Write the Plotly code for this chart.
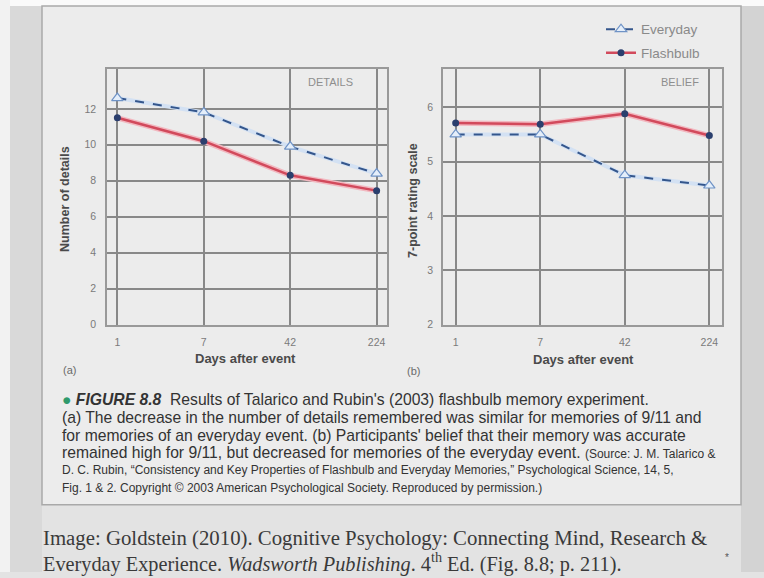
import plotly.graph_objects as go

# ---- data ----
days = ["1", "7", "42", "224"]
details_everyday = [12.6, 11.8, 9.9, 8.4]
details_flashbulb = [11.5, 10.2, 8.3, 7.45]
belief_everyday = [5.5, 5.5, 4.75, 4.56]
belief_flashbulb = [5.71, 5.69, 5.88, 5.48]
details_ticks = [0, 2, 4, 6, 8, 10, 12]
belief_ticks = [2, 3, 4, 5, 6]

W, H = 764, 578
def px(x):
    return x / W
def py(y):
    return 1 - y / H

EV_LINE = "#34568c"
EV_HALO = "#d3e1f3"
FL_LINE = "#d24a5c"
FL_HALO = "#f2b8c0"
FL_MARK = "#2b3f6e"

fig = go.Figure()

def add_panel(xa, ya, ev, fl, legend):
    fig.add_trace(go.Scatter(x=days, y=ev, mode="lines", xaxis=xa, yaxis=ya,
                             line=dict(color=EV_HALO, width=4), showlegend=False, hoverinfo="skip"))
    fig.add_trace(go.Scatter(x=days, y=fl, mode="lines", xaxis=xa, yaxis=ya,
                             line=dict(color=FL_HALO, width=5.5), showlegend=False, hoverinfo="skip"))
    fig.add_trace(go.Scatter(x=days, y=ev, mode="lines+markers", name="Everyday",
                             xaxis=xa, yaxis=ya, legendgroup="ev", showlegend=legend,
                             line=dict(color=EV_LINE, width=2, dash="dash"),
                             marker=dict(symbol="triangle-up", size=10, color="#e4eefa",
                                         line=dict(color="#6f93c6", width=1.2))))
    fig.add_trace(go.Scatter(x=days, y=fl, mode="lines+markers", name="Flashbulb",
                             xaxis=xa, yaxis=ya, legendgroup="fl", showlegend=legend,
                             line=dict(color=FL_LINE, width=2.5),
                             marker=dict(symbol="circle", size=7, color=FL_MARK)))

add_panel("x", "y", details_everyday, details_flashbulb, True)
add_panel("x2", "y2", belief_everyday, belief_flashbulb, False)

ax_common = dict(showgrid=True, gridcolor="#888888", gridwidth=1.5,
                 showline=True, linecolor="#999999", linewidth=1.5, mirror=True,
                 zeroline=False, ticks="", tickfont=dict(family="Liberation Sans", size=10.5, color="#7a7a7a"),
                 fixedrange=True)

fig.update_layout(
    width=W, height=H, autosize=False,
    margin=dict(l=0, r=0, t=0, b=0),
    paper_bgcolor="#e3e3e3",
    plot_bgcolor="#eeeeee",
    font=dict(family="Liberation Sans", color="#444"),
    xaxis=dict(domain=[px(107), px(387)], anchor="y", type="category",
               range=[-0.12, 3.12], ticklabelstandoff=7, **ax_common),
    yaxis=dict(domain=[py(328), py(70)], anchor="x", range=[0, 14.2],
               tickvals=details_ticks, ticklabelstandoff=7, **ax_common),
    xaxis2=dict(domain=[px(443), px(722)], anchor="y2", type="category",
                range=[-0.15, 3.15], ticklabelstandoff=7, **ax_common),
    yaxis2=dict(domain=[py(328), py(70)], anchor="x2", range=[2, 6.7],
                tickvals=belief_ticks, ticklabelstandoff=6, **ax_common),
    legend=dict(x=px(601), y=py(14), xanchor="left", yanchor="top",
                bgcolor="rgba(0,0,0,0)", font=dict(size=13.5, color="#8a8a8a"),
                tracegroupgap=3, traceorder="grouped"),
    showlegend=True,
)

shapes = [
    dict(type="rect", xref="paper", yref="paper", x0=0, x1=1, y0=py(6), y1=1,
         fillcolor="#fafafa", line_width=0, layer="below"),
    dict(type="rect", xref="paper", yref="paper", x0=0, x1=px(10), y0=0, y1=1,
         fillcolor="#f2f2f2", line_width=0, layer="below"),
    dict(type="rect", xref="paper", yref="paper", x0=px(10), x1=px(42), y0=0, y1=py(6),
         fillcolor="#d9d9d9", line_width=0, layer="below"),
    dict(type="rect", xref="paper", yref="paper", x0=px(741), x1=1, y0=0, y1=py(6),
         fillcolor="#d3d3d3", line_width=0, layer="below"),
    dict(type="rect", xref="paper", yref="paper", x0=px(42), x1=px(741), y0=py(510), y1=py(6),
         fillcolor="#ececec", line=dict(color="#a9a9a9", width=1.5), layer="below"),
]
fig.update_layout(shapes=shapes)

ann = []
def t(x, y, text, size, color="#444", xanchor="center", family="Liberation Sans", **kw):
    ann.append(dict(x=px(x), y=py(y), xref="paper", yref="paper", text=text, showarrow=False,
                    xanchor=xanchor, yanchor="middle", font=dict(size=size, color=color, family=family),
                    align="left", **kw))

t(330, 83, "DETAILS", 11, "#8e8e8e")
t(680, 83, "BELIEF", 11, "#8e8e8e")
t(245, 362, "<b>Days after event</b>", 13, "#4a4a4a")
t(583, 363, "<b>Days after event</b>", 13, "#4a4a4a")
t(65, 201, "<b>Number of details</b>", 12.5, "#4a4a4a", textangle=-90)
t(413, 203, "<b>7-point rating scale</b>", 12.5, "#4a4a4a", textangle=-90)
t(61, 374, "(a)", 11, "#6a6a6a", xanchor="left")
t(405, 375, "(b)", 11, "#6a6a6a", xanchor="left")

cap = "#333333"
cs = 15.7
sm = 12
t(60, 404, "<span style='color:#2f9a6c'>●</span> <b><i>FIGURE 8.8</i></b>  Results of Talarico and Rubin's (2003) flashbulb memory experiment.", cs, cap, xanchor="left")
t(60, 422, "(a) The decrease in the number of details remembered was similar for memories of 9/11 and", cs, cap, xanchor="left")
t(60, 440, "for memories of an everyday event. (b) Participants' belief that their memory was accurate", cs, cap, xanchor="left")
t(60, 457, "remained high for 9/11, but decreased for memories of the everyday event. <span style='font-size:12px'>(Source: J. M. Talarico &amp;</span>", cs, cap, xanchor="left")
t(60, 475, "D. C. Rubin, \u201cConsistency and Key Properties of Flashbulb and Everyday Memories,\u201d Psychological Science, 14, 5,", sm, cap, xanchor="left")
t(60, 493, "Fig. 1 &amp; 2. Copyright \u00a9 2003 American Psychological Society. Reproduced by permission.)", sm, cap, xanchor="left")

t(41, 544, "Image: Goldstein (2010). Cognitive Psychology: Connecting Mind, Research &amp;", 20.8, "#3a3a3a",
  xanchor="left", family="Liberation Serif")
t(41, 568, "Everyday Experience. <i>Wadsworth Publishing</i>. 4<sup>th</sup> Ed. (Fig. 8.8; p. 211).", 20.3, "#3a3a3a",
  xanchor="left", family="Liberation Serif")
t(727, 563, "*", 10, "#555")

fig.update_layout(annotations=ann)

fig.write_html("out.html", config={"displayModeBar": False},
               post_script="document.body.style.margin='0';document.body.style.padding='0';")
